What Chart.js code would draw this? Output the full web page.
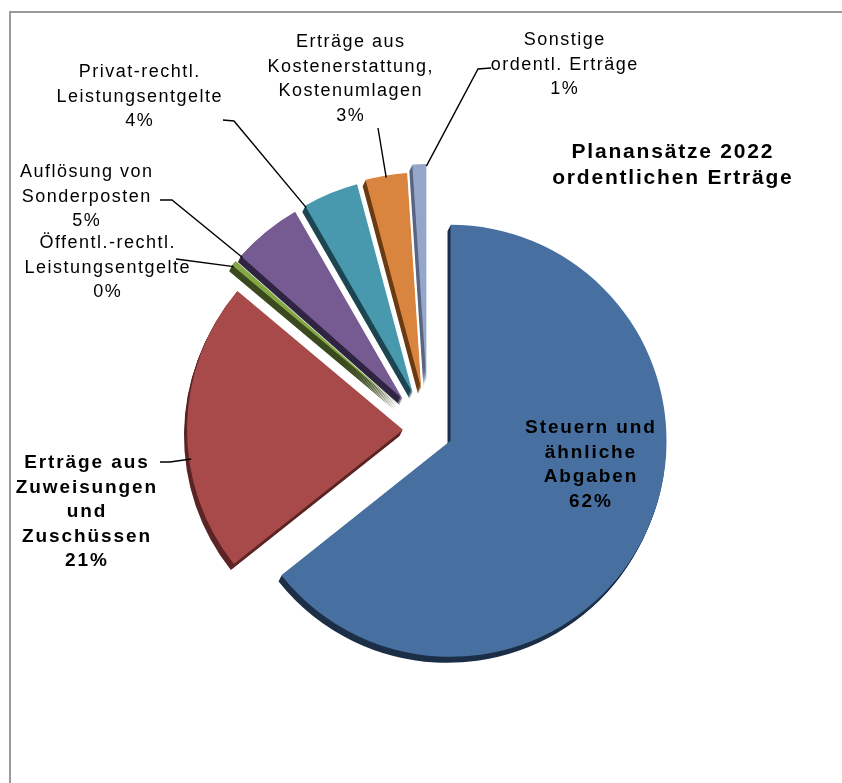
<!DOCTYPE html>
<html lang="de">
<head>
<meta charset="utf-8">
<title>Planansätze 2022 – ordentliche Erträge</title>
<script src="https://cdn.jsdelivr.net/npm/chart.js@4.4.1/dist/chart.umd.min.js"></script>
<style>
  html, body { margin: 0; padding: 0; background: #fff; overflow: hidden; }
  #frame { position: absolute; left: 9px; top: 11px; width: 900px; height: 900px; border: 2px solid #9a9a9a; box-sizing: border-box; }
  #chart { position: absolute; left: 0; top: 0; }
</style>
</head>
<body>
<div id="frame"></div>
<canvas id="chart" width="842" height="783"></canvas>
<script>
// Data (percent shares, Planansätze 2022)
const categories = [
    'Steuern und\nähnliche\nAbgaben',
    'Erträge aus\nZuweisungen\nund\nZuschüssen',
    'Öffentl.-rechtl.\nLeistungsentgelte',
    'Auflösung von\nSonderposten',
    'Privat-rechtl.\nLeistungsentgelte',
    'Erträge aus\nKostenerstattung,\nKostenumlagen',
    'Sonstige\nordentl. Erträge'
];
const values = [62, 21, 0.4, 5, 4, 3, 1];
const titleLines = ['Planansätze 2022', 'ordentlichen Erträge'];

// Styles
const faceColors = ['#476fa0', '#a84a4a', '#84a843', '#765b93', '#4898ae', '#d9853f', '#94a7cb'];
const sideColors = ['#1c2f47', '#5c2424', '#3b4a1e', '#2f2442', '#1d4552', '#6b3b13', '#5b6582'];
const explode = [25, 25, 40, 40, 40, 42, 50];
const depth = { x: -0.5, y: 1, steps: 6 };

// label placement: centre x, first baseline, bold, leader polyline start
const labelLayout = [
    { cx: 590, y: 433, bold: true, leader: null },
    { cx: 86, y: 468, bold: true, leader: [[160, 462], [170, 462]] },
    { cx: 107, y: 248, bold: false, leader: [[176, 259]] },
    { cx: 86, y: 177, bold: false, leader: [[160, 200], [172, 200]] },
    { cx: 139, y: 77, bold: false, leader: [[223, 120], [234, 121]] },
    { cx: 350, y: 47, bold: false, leader: [[378, 128]] },
    { cx: 564, y: 45, bold: false, leader: [[491, 68], [478, 69]] }
];

function sliceShift(arc, i) {
    const mid = (arc.startAngle + arc.endAngle) / 2;
    return [Math.cos(mid) * explode[i], Math.sin(mid) * explode[i]];
}

// exploded pie with a thin extruded side
const explodedPie = {
    id: 'explodedPie',
    beforeDatasetDraw(chart, args) {
        const ctx = chart.ctx;
        const arcs = args.meta.data;
        arcs.forEach((arc, i) => {
            const [dx, dy] = sliceShift(arc, i);
            const side = Object.create(arc);
            side.options = Object.assign({}, arc.options, { backgroundColor: sideColors[i], borderColor: sideColors[i], borderWidth: 0 });
            for (let k = depth.steps; k >= 1; k--) {
                ctx.save();
                ctx.translate(dx + depth.x * k, dy + depth.y * k);
                arc.draw.call(side, ctx);
                ctx.restore();
            }
        });
        arcs.forEach((arc, i) => {
            const [dx, dy] = sliceShift(arc, i);
            ctx.save();
            ctx.translate(dx, dy);
            arc.draw(ctx);
            ctx.restore();
        });
        return false;
    }
};

function drawLines(ctx, lines, cx, y, lh, ls) {
    ctx.letterSpacing = ls + 'px';
    lines.forEach((t, k) => ctx.fillText(t, cx + ls / 2, y + k * lh));
}

const pieLabels = {
    id: 'pieLabels',
    afterDraw(chart) {
        const ctx = chart.ctx;
        const arcs = chart.getDatasetMeta(0).data;
        ctx.save();
        ctx.fillStyle = '#000';
        ctx.textAlign = 'center';
        ctx.textBaseline = 'alphabetic';

        // leader lines
        ctx.strokeStyle = '#000';
        ctx.lineWidth = 1.4;
        arcs.forEach((arc, i) => {
            const lay = labelLayout[i];
            if (!lay.leader) return;
            const [dx, dy] = sliceShift(arc, i);
            const cx = arc.x + dx, cy = arc.y + dy;
            const last = lay.leader[lay.leader.length - 1];
            let a = Math.atan2(last[1] - cy, last[0] - cx);
            const s = arc.startAngle, e = arc.endAngle;
            while (a < s) a += Math.PI * 2;
            while (a >= s + Math.PI * 2) a -= Math.PI * 2;
            if (a > e) a = (a - e) < (s + Math.PI * 2 - a) ? e : s;
            const r = arc.outerRadius * 0.99;
            ctx.beginPath();
            ctx.moveTo(lay.leader[0][0], lay.leader[0][1]);
            lay.leader.slice(1).forEach(p => ctx.lineTo(p[0], p[1]));
            ctx.lineTo(cx + Math.cos(a) * r, cy + Math.sin(a) * r);
            ctx.stroke();
        });

        // data labels
        categories.forEach((cat, i) => {
            const lay = labelLayout[i];
            const lines = cat.split('\n').concat([Math.round(values[i]) + '%']);
            if (lay.bold) {
                ctx.font = 'bold 19px "Liberation Sans", Arial, sans-serif';
                drawLines(ctx, lines, lay.cx, lay.y, 24.5, 1.9);
            } else {
                ctx.font = '18px "Liberation Sans", Arial, sans-serif';
                drawLines(ctx, lines, lay.cx, lay.y, 24.5, 1.5);
            }
        });

        // title
        ctx.font = 'bold 21px "Liberation Sans", Arial, sans-serif';
        drawLines(ctx, titleLines, 672, 158, 26, 1.8);
        ctx.restore();
    }
};

new Chart(document.getElementById('chart'), {
    type: 'pie',
    data: {
        labels: categories.map(c => c.replace(/\n/g, ' ')),
        datasets: [{
            data: values,
            backgroundColor: faceColors,
            borderWidth: 0,
            clip: false
        }]
    },
    options: {
        responsive: false,
        maintainAspectRatio: false,
        animation: false,
        events: [],
        radius: 216,
        layout: { padding: { left: 114, right: 100, top: 177, bottom: 100 } },
        plugins: {
            legend: { display: false },
            tooltip: { enabled: false },
            title: { display: false }
        }
    },
    plugins: [explodedPie, pieLabels]
});
</script>
</body>
</html>
